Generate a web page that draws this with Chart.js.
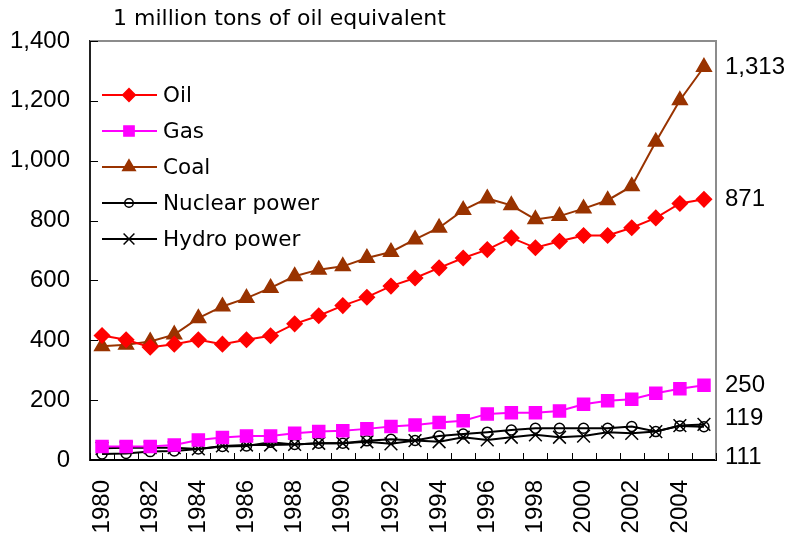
<!DOCTYPE html>
<html>
<head>
<meta charset="utf-8">
<script src="https://cdn.jsdelivr.net/npm/chart.js@4.4.0/dist/chart.umd.min.js"></script>
<style>
  html, body { margin: 0; padding: 0; background: #fff; overflow: hidden; }
  #wrap { width: 788px; height: 536px; }
</style>
</head>
<body>
<div id="wrap"><canvas id="grafico" width="788" height="536"></canvas></div>
<script>
const years = ["1980", "1981", "1982", "1983", "1984", "1985", "1986", "1987", "1988", "1989",
  "1990", "1991", "1992", "1993", "1994", "1995", "1996", "1997", "1998", "1999",
  "2000", "2001", "2002", "2003", "2004", "2005"];
const oil = [416, 402, 377, 387, 402, 387, 402, 415, 455, 482, 516, 544, 581, 608, 642, 675, 703, 742, 709, 731, 750, 750, 776, 809, 857, 871];
const gas = [45, 45, 45, 50, 67, 75, 80, 80, 89, 95, 98, 104, 112, 117, 125, 131, 154, 158, 158, 164, 186, 198, 203, 223, 238, 250];
const coal = [380, 385, 396, 419, 474, 513, 541, 575, 614, 636, 647, 675, 695, 737, 776, 835, 874, 851, 804, 815, 840, 868, 915, 1063, 1202, 1313];
const nuclear = [20, 22, 28, 30, 37, 45, 47, 59, 52, 56, 56, 64, 69, 65, 80, 87, 93, 100, 106, 106, 106, 106, 112, 95, 114, 111];
const hydro = [39, 41, 41, 41, 37, 47, 50, 50, 52, 56, 56, 61, 54, 65, 61, 76, 67, 76, 84, 76, 80, 93, 89, 95, 115, 119];
const seriesNames = ["Oil", "Gas", "Coal", "Nuclear power", "Hydro power"];
const unitTitle = "1 million tons of oil equivalent";

const FONT = "'Liberation Sans', Arial, sans-serif";
const TEXT_FONT = "'DejaVu Sans', sans-serif";

// spostamento verticale delle etichette finali (px)
const endLabelShift = [0, 0, 0, 31, -6];

const frameAndLegend = {
  id: "frameAndLegend",
  afterDraw(chart) {
    const ctx = chart.ctx;
    const a = chart.chartArea;
    const y = chart.scales.y;
    ctx.save();

    // bordo superiore e destro grigio
    ctx.strokeStyle = "#8c8c8c";
    ctx.lineWidth = 2;
    ctx.beginPath();
    ctx.moveTo(a.left, a.top);
    ctx.lineTo(a.right, a.top);
    ctx.lineTo(a.right, a.bottom);
    ctx.stroke();

    // tacche interne
    ctx.strokeStyle = "#000";
    ctx.lineWidth = 1;
    ctx.beginPath();
    const step = (a.right - a.left) / years.length;
    for (let i = 0; i <= years.length; i++) {
      const px = Math.round(a.left + i * step) + 0.5;
      ctx.moveTo(px, a.bottom);
      ctx.lineTo(px, a.bottom - 7);
    }
    y.ticks.forEach((t) => {
      const py = Math.round(y.getPixelForValue(t.value)) + 0.5;
      ctx.moveTo(a.left, py);
      ctx.lineTo(a.left + 8, py);
    });
    ctx.stroke();

    // titolo unità
    ctx.fillStyle = "#000";
    ctx.font = "22px " + TEXT_FONT;
    ctx.textAlign = "left";
    ctx.textBaseline = "middle";
    ctx.fillText(unitTitle, a.left + 23, 19);

    // legenda
    chart.data.datasets.forEach((ds, i) => {
      const ly = 95 + i * 36;
      ctx.strokeStyle = ds.borderColor;
      ctx.lineWidth = 2;
      ctx.beginPath();
      ctx.moveTo(a.left + 12, ly);
      ctx.lineTo(a.left + 67, ly);
      ctx.stroke();
      ctx.fillStyle = ds.pointBackgroundColor;
      ctx.strokeStyle = ds.pointBorderColor;
      ctx.lineWidth = 1.5;
      Chart.helpers.drawPoint(ctx, {
        pointStyle: ds.pointStyle,
        radius: ds.pointRadius * 0.85,
        borderWidth: 1.5,
        rotation: 0
      }, a.left + 39, ly);
      ctx.fillStyle = "#000";
      ctx.font = "21.5px " + TEXT_FONT;
      ctx.textAlign = "left";
      ctx.textBaseline = "middle";
      ctx.fillText(ds.label, a.left + 73, ly + 1);
    });

    // etichette a destra
    ctx.font = "24px " + FONT;
    ctx.fillStyle = "#000";
    ctx.textAlign = "left";
    ctx.textBaseline = "middle";
    chart.data.datasets.forEach((ds, i) => {
      const v = ds.data[ds.data.length - 1];
      ctx.fillText(v.toLocaleString("en-US"), a.right + 9, y.getPixelForValue(v) + endLabelShift[i]);
    });
    ctx.restore();
  }
};

const makeSet = (label, data, color, style, radius, fill) => ({
  label: label,
  data: data,
  borderColor: color,
  backgroundColor: color,
  borderWidth: 2,
  pointStyle: style,
  pointRadius: radius,
  pointBackgroundColor: fill,
  pointBorderColor: color,
  pointBorderWidth: 1.5,
  tension: 0
});

const grafico = new Chart(document.getElementById("grafico"), {
  type: "line",
  data: {
    labels: years,
    datasets: [
      makeSet(seriesNames[0], oil, "#ff0000", "rectRot", 7.5, "#ff0000"),
      makeSet(seriesNames[1], gas, "#ff00ff", "rect", 8.5, "#ff00ff"),
      makeSet(seriesNames[2], coal, "#993300", "triangle", 8.5, "#993300"),
      makeSet(seriesNames[3], nuclear, "#000000", "circle", 5, "rgba(255,255,255,0)"),
      makeSet(seriesNames[4], hydro, "#000000", "crossRot", 9, "#000000")
    ]
  },
  options: {
    responsive: false,
    animation: false,
    layout: { padding: { top: 41, right: 72, left: 0, bottom: 0 } },
    plugins: {
      legend: { display: false },
      tooltip: { enabled: false }
    },
    scales: {
      x: {
        type: "category",
        offset: true,
        grid: { display: false, drawTicks: false },
        border: { display: true, color: "#000", width: 2 },
        ticks: {
          autoSkip: false,
          minRotation: 90,
          maxRotation: 90,
          padding: 20,
          color: "#000",
          font: { family: FONT, size: 24 },
          callback: (val, idx) => (idx % 2 === 0 ? years[idx] : "")
        },
        afterFit: (scale) => { scale.height = 76; }
      },
      y: {
        min: 0,
        max: 1400,
        grid: { display: false, drawTicks: false },
        border: { display: true, color: "#222", width: 2 },
        ticks: {
          stepSize: 200,
          padding: 20,
          color: "#000",
          font: { family: FONT, size: 24 },
          callback: (v) => v.toLocaleString("en-US")
        },
        afterFit: (scale) => { scale.width = 90; }
      }
    }
  },
  plugins: [frameAndLegend]
});
</script>
</body>
</html>
